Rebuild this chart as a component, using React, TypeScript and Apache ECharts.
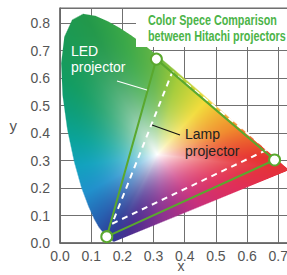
import React, { useEffect, useRef } from "react";
import * as echarts from "echarts";

// CIE 1931 spectral locus (x, y) by wavelength (nm)
const locusNm = [380, 410, 420, 430, 440, 450, 460, 470, 475, 480, 485, 490, 495, 500, 505, 510, 515, 520, 525, 530, 535, 540, 545, 550, 555, 560, 565, 570, 575, 580, 585, 590, 595, 600, 610, 620, 630, 640, 650, 700];
const locusX = [0.1741, 0.1727, 0.1714, 0.1689, 0.1644, 0.1566, 0.144, 0.1241, 0.1096, 0.0913, 0.0687, 0.0454, 0.0235, 0.0082, 0.0039, 0.0139, 0.0389, 0.0743, 0.1142, 0.1547, 0.1929, 0.2296, 0.2658, 0.3016, 0.3373, 0.3731, 0.4087, 0.4441, 0.4788, 0.5125, 0.5448, 0.5752, 0.6029, 0.627, 0.6658, 0.6915, 0.7079, 0.719, 0.726, 0.7347];
const locusY = [0.005, 0.0048, 0.0051, 0.0069, 0.0109, 0.0177, 0.0297, 0.0578, 0.0868, 0.1327, 0.2007, 0.295, 0.4127, 0.5384, 0.6548, 0.7502, 0.812, 0.8338, 0.8262, 0.8059, 0.7816, 0.7543, 0.7243, 0.6923, 0.6589, 0.6245, 0.5896, 0.5547, 0.5202, 0.4866, 0.4544, 0.4242, 0.3965, 0.3725, 0.334, 0.3083, 0.292, 0.2809, 0.274, 0.2653];

// Gamut triangles (R, G, B)
const ledX = [0.688, 0.309, 0.15];
const ledY = [0.302, 0.669, 0.023];
const lampX = [0.665, 0.36, 0.167];
const lampY = [0.34, 0.622, 0.07];

const xTicks = [0.0, 0.1, 0.2, 0.3, 0.4, 0.5, 0.6, 0.7];
const yTicks = [0.0, 0.1, 0.2, 0.3, 0.4, 0.5, 0.6, 0.7, 0.8];

// style: white point and colour anchors along the locus
const WHITE = [0.312, 0.322];
const ANCHORS: [number, number, string][] = [
  [0.68, 0.31, "#e6322e"],
  [0.57, 0.42, "#f08a2c"],
  [0.47, 0.52, "#f2dc3a"],
  [0.38, 0.61, "#a6cc38"],
  [0.3, 0.69, "#62b545"],
  [0.2, 0.77, "#3aa848"],
  [0.08, 0.83, "#22984a"],
  [0.01, 0.6, "#129c62"],
  [0.01, 0.5, "#0e9e78"],
  [0.03, 0.38, "#0aa39a"],
  [0.05, 0.28, "#12a2be"],
  [0.08, 0.18, "#2090cc"],
  [0.12, 0.08, "#2660b0"],
  [0.16, 0.02, "#2e3c96"],
  [0.22, 0.03, "#4a2e90"],
  [0.33, 0.08, "#8c3290"],
  [0.45, 0.13, "#c8307c"],
  [0.58, 0.2, "#e02e58"],
];

const GREEN = "#5aa82e";
const GRID = "#707070";
const LABEL = "#555555";

function hexRgb(h: string) {
  return [parseInt(h.slice(1, 3), 16), parseInt(h.slice(3, 5), 16), parseInt(h.slice(5, 7), 16)];
}

let cacheKey = "";
let cacheUrl = "";

function renderLocus(_params: any, api: any) {
  const pts = locusX.map((x, i) => api.coord([x, locusY[i]]) as number[]);
  const W = api.coord(WHITE) as number[];
  const anc = ANCHORS.map(([x, y, c]) => {
    const p = api.coord([x, y]);
    return { a: Math.atan2(p[1] - W[1], p[0] - W[0]), c: hexRgb(c) };
  }).sort((a, b) => a.a - b.a);
  let minX = Infinity, minY = Infinity, maxX = -Infinity, maxY = -Infinity;
  pts.forEach((p) => {
    minX = Math.min(minX, p[0]); minY = Math.min(minY, p[1]);
    maxX = Math.max(maxX, p[0]); maxY = Math.max(maxY, p[1]);
  });
  minX = Math.floor(minX) - 2; minY = Math.floor(minY) - 2;
  maxX = Math.ceil(maxX) + 2; maxY = Math.ceil(maxY) + 2;
  const w = maxX - minX, h = maxY - minY;
  const key = [minX, minY, w, h, W[0], W[1]].join(",");
  if (key !== cacheKey) {
    const canvas = document.createElement("canvas");
    canvas.width = w; canvas.height = h;
    const ctx = canvas.getContext("2d")!;
    const img = ctx.createImageData(w, h);
    const n = pts.length;
    const edgeColor = (ang: number) => {
      const m = anc.length;
      let i = 0;
      while (i < m && anc[i].a < ang) i++;
      const hi = anc[i % m];
      const lo = anc[(i - 1 + m) % m];
      let a0 = lo.a, a1 = hi.a;
      if (i === 0) { a0 -= Math.PI * 2; }
      if (i === m) { a1 += Math.PI * 2; }
      const f = a1 - a0 > 1e-9 ? (ang - a0) / (a1 - a0) : 0;
      return [0, 1, 2].map((k) => lo.c[k] * (1 - f) + hi.c[k] * f);
    };
    for (let py = 0; py < h; py++) {
      for (let px = 0; px < w; px++) {
        const P0 = minX + px + 0.5, P1 = minY + py + 0.5;
        const dx = P0 - W[0], dy = P1 - W[1];
        const len = Math.hypot(dx, dy);
        let r = 255, g = 255, b = 255, alpha = 1;
        if (len > 1e-6) {
          let sHit = Infinity;
          for (let k = 0; k < n; k++) {
            const A = pts[k], B = pts[(k + 1) % n];
            const ex = B[0] - A[0], ey = B[1] - A[1];
            const den = dx * ey - dy * ex;
            if (Math.abs(den) < 1e-12) continue;
            const awx = A[0] - W[0], awy = A[1] - W[1];
            const s = (awx * ey - awy * ex) / den;
            const u = (awx * dy - awy * dx) / den;
            if (u >= -1e-9 && u <= 1 + 1e-9 && s > 0 && s < sHit) sHit = s;
          }
          const t = Math.min(1, 1 / sHit);
          const dist = (sHit - 1) * len;
          alpha = Math.max(0, Math.min(1, dist / 1.4 + 0.5));
          const ec = edgeColor(Math.atan2(dy, dx));
          const f = 1 - Math.pow(1 - t, 2.4);
          r = 255 * (1 - f) + ec[0] * f;
          g = 255 * (1 - f) + ec[1] * f;
          b = 255 * (1 - f) + ec[2] * f;
        }
        const o = (py * w + px) * 4;
        img.data[o] = r; img.data[o + 1] = g; img.data[o + 2] = b;
        img.data[o + 3] = alpha * 255;
      }
    }
    ctx.putImageData(img, 0, 0);
    cacheUrl = canvas.toDataURL();
    cacheKey = key;
  }
  return {
    type: "image",
    style: { image: cacheUrl, x: minX, y: minY, width: w, height: h },
  };
}

const isTick = (v: number, ticks: number[]) => ticks.some((t) => Math.abs(t - v) < 1e-6);

export default function App() {
  const ref = useRef<HTMLDivElement>(null);
  useEffect(() => {
    if (!ref.current) return;
    const chart = echarts.init(ref.current, undefined, { renderer: "svg" });
    const closed = (xs: number[], ys: number[]) => [...xs, xs[0]].map((x, i) => [x, ys[i % ys.length]]);
    chart.setOption({
      animation: false,
      grid: {
        left: 60, top: 8, width: 242, height: 235, show: true, borderColor: "#666", borderWidth: 1,
        backgroundColor: "transparent", containLabel: false, outerBoundsMode: "none",
      },
      xAxis: {
        type: "value", min: 0, max: 0.776, interval: 0.1,
        name: "x", nameLocation: "middle", nameGap: 16, nameMoveOverlap: false,
        nameTextStyle: { fontSize: 14, color: LABEL, fontFamily: "Liberation Sans" },
        axisLine: { lineStyle: { color: "#666", width: 1.5 } },
        axisTick: { show: false },
        axisLabel: { margin: 6, fontSize: 14, color: LABEL, fontFamily: "Liberation Sans", formatter: (v: number) => (isTick(v, xTicks) ? v.toFixed(1) : "") },
        splitLine: { show: true, lineStyle: { color: GRID, width: 1 } },
      },
      yAxis: {
        type: "value", min: 0, max: 0.855, interval: 0.1,
        name: "y", nameLocation: "middle", nameGap: 43, nameRotate: 0, nameMoveOverlap: false,
        nameTextStyle: { fontSize: 15, color: LABEL, fontFamily: "Liberation Sans" },
        axisLine: { show: true, lineStyle: { color: "#666", width: 1.5 } },
        axisTick: { show: false },
        axisLabel: { margin: 10, fontSize: 14, color: LABEL, fontFamily: "Liberation Sans", formatter: (v: number) => (isTick(v, yTicks) ? v.toFixed(1) : "") },
        splitLine: { show: true, lineStyle: { color: GRID, width: 1 } },
      },
      series: [
        {
          type: "custom", name: "locus", renderItem: renderLocus, data: [[0, 0]], silent: true, z: 2,
          clip: false,
        },
        {
          type: "line", name: "Lamp projector", data: closed(lampX, lampY), symbol: "none", z: 3,
          lineStyle: { color: "#ffffff", width: 2, type: [6, 5] },
        },
        {
          type: "line", name: "LED projector", data: closed(ledX, ledY), symbol: "none", z: 4,
          lineStyle: { color: GREEN, width: 2 },
        },
        {
          type: "scatter", name: "LED primaries", data: ledX.map((x, i) => [x, ledY[i]]), symbolSize: 11, z: 5,
          itemStyle: { color: "#ffffff", borderColor: GREEN, borderWidth: 2, opacity: 1 },
        },
      ],
      graphic: [
        { type: "rect", z: 100, shape: { x: 136, y: 9, width: 160, height: 38 }, style: { fill: "#ffffff" } },
        {
          type: "text", z: 101, x: 148, y: 12, scaleX: 0.72,
          style: { text: "Color Spece Comparison\nbetween Hitachi projectors", font: "bold 15px 'Liberation Sans', sans-serif", lineHeight: 16, fill: "#4cb448" },
        },
        { type: "line", z: 100, shape: { x1: 117, y1: 81, x2: 147, y2: 90 }, style: { stroke: "#ffffff", lineWidth: 1.2 } },
        {
          type: "text", z: 100, x: 71, y: 43,
          style: { text: "LED\nprojector", font: "14px 'Liberation Sans', sans-serif", lineHeight: 16, fill: "#ffffff" },
        },
        { type: "line", z: 100, shape: { x1: 152, y1: 125, x2: 180, y2: 135 }, style: { stroke: "#111111", lineWidth: 1.2 } },
        {
          type: "text", z: 100, x: 185, y: 125,
          style: { text: "Lamp\nprojector", font: "14px 'Liberation Sans', sans-serif", lineHeight: 17, fill: "#222222" },
        },
      ],
    });
    return () => chart.dispose();
  }, []);
  return (
    <div style={{ position: "absolute", left: 0, top: 0, width: 287, height: 275, overflow: "hidden", background: "#fff" }}>
      <div ref={ref} style={{ width: 310, height: 275 }} />
    </div>
  );
}
